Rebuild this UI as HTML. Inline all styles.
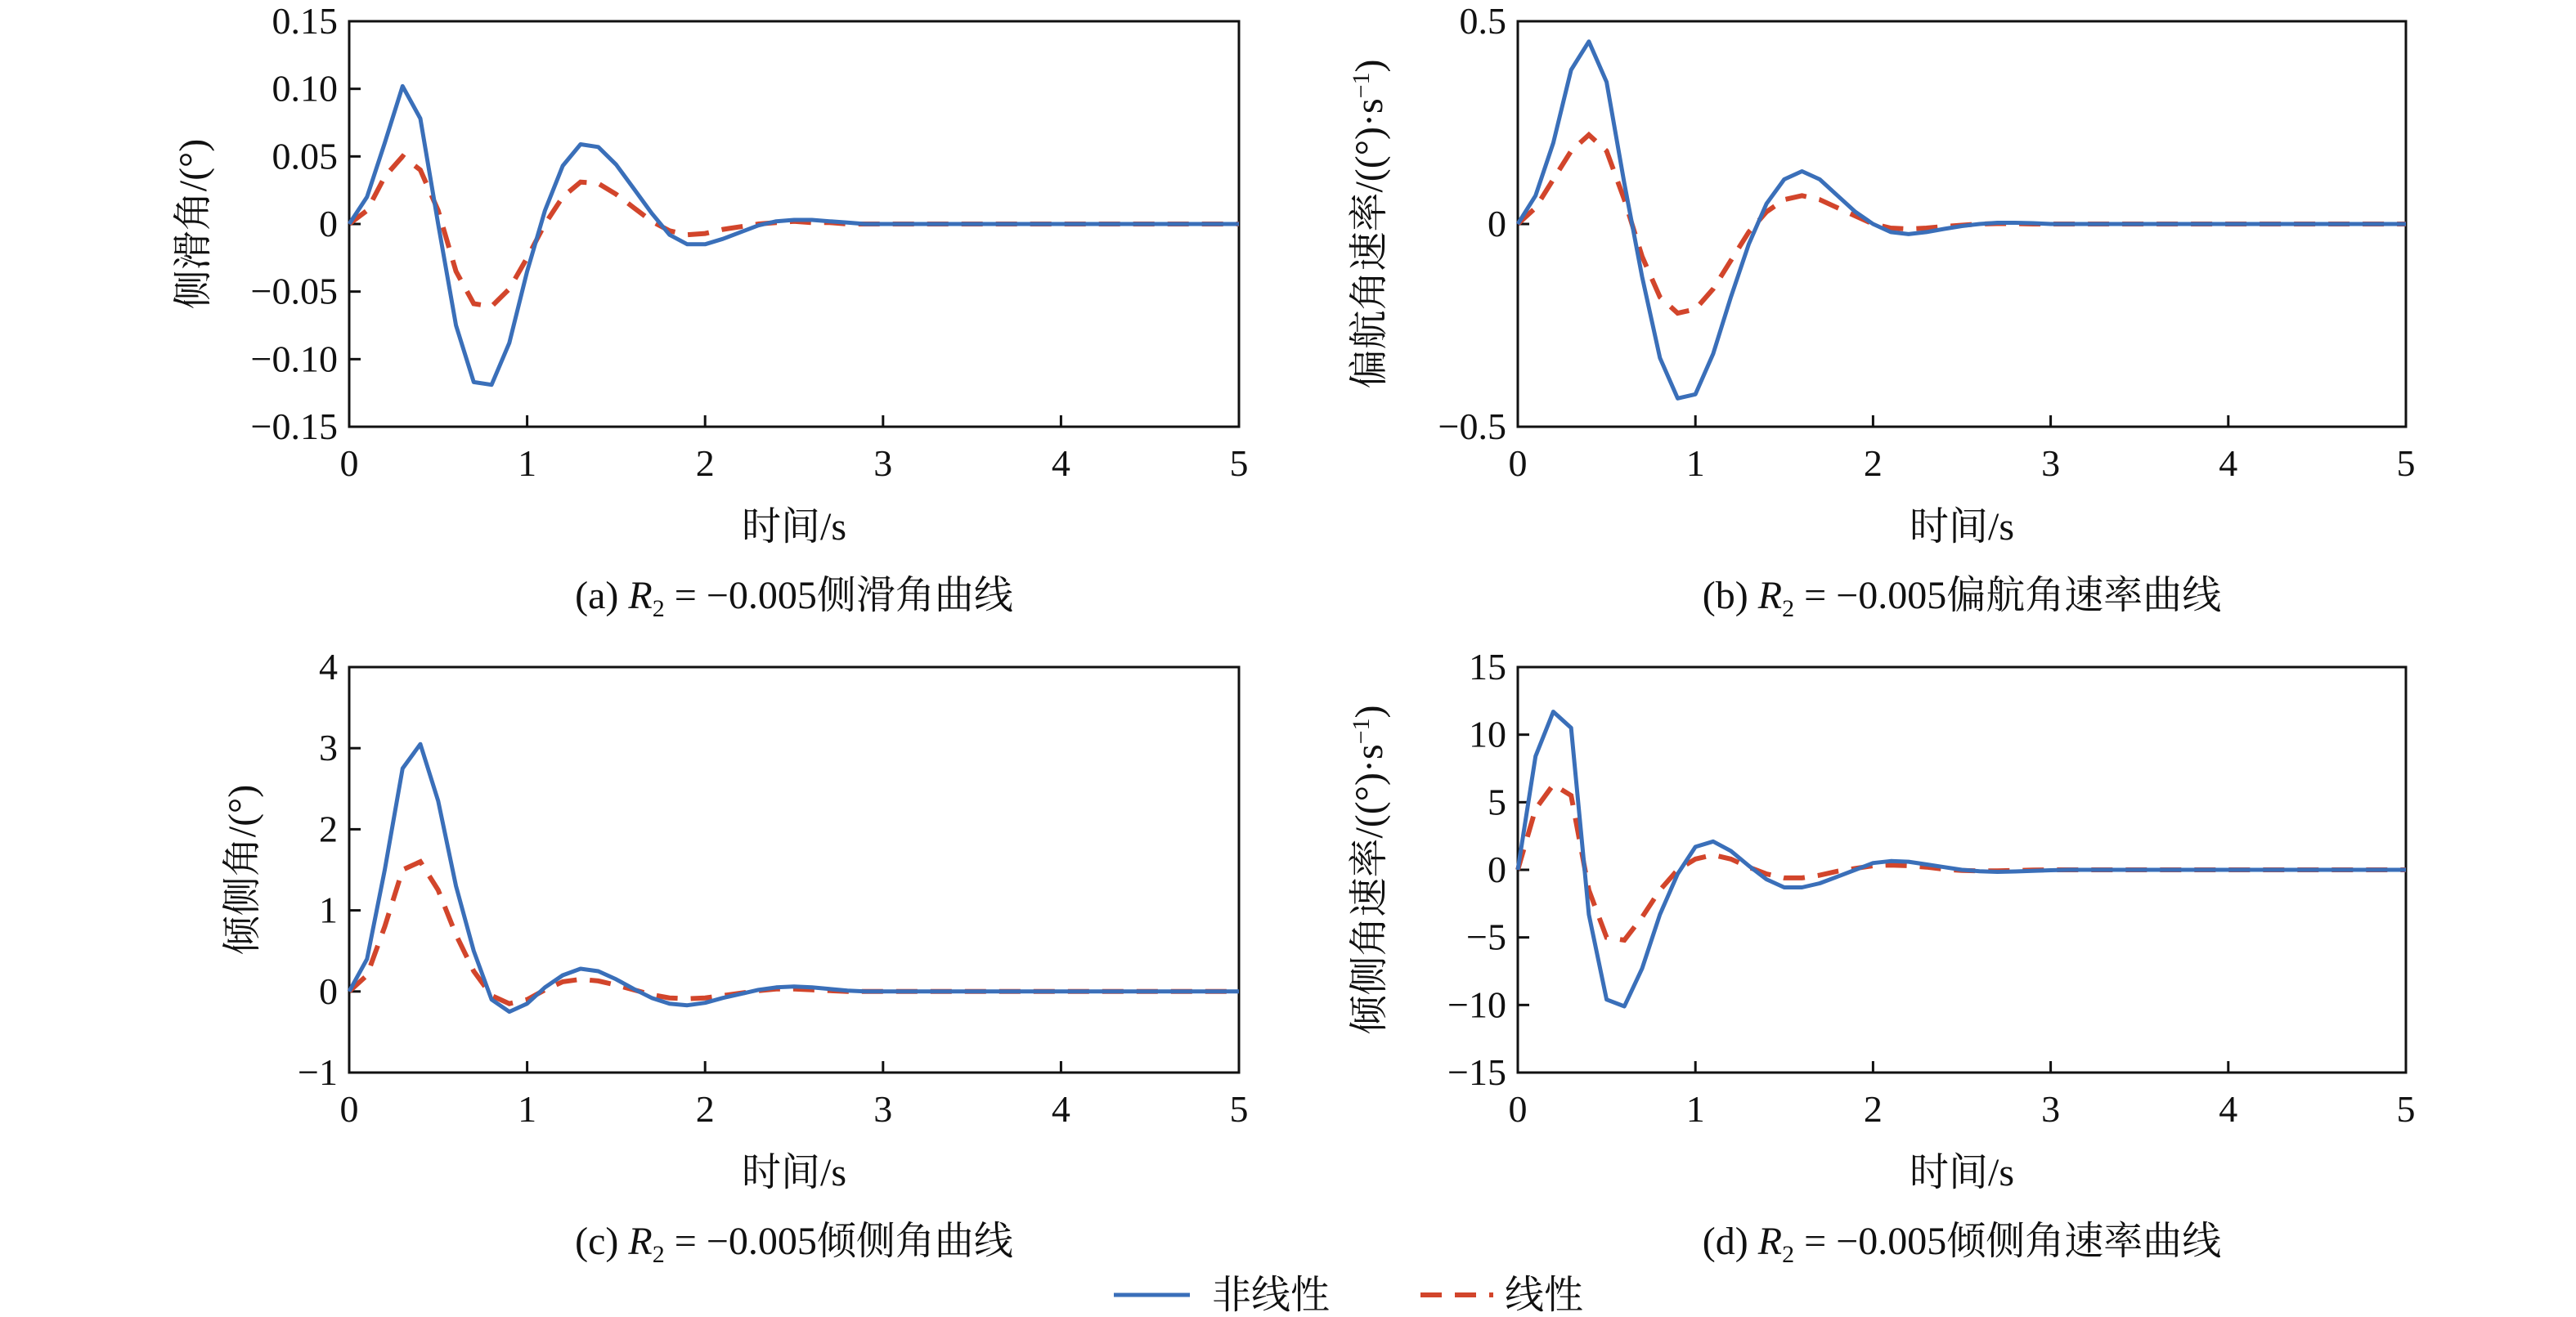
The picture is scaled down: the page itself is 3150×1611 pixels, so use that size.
<!DOCTYPE html>
<html><head><meta charset="utf-8"><style>
html,body{margin:0;padding:0;background:#fff;}
svg{display:block;font-family:"Liberation Serif","Noto Serif CJK SC",serif;}
</style></head><body>
<svg id="chart" width="3150" height="1611" viewBox="0 0 3150 1611" xmlns="http://www.w3.org/2000/svg"></svg>
<script>
const times = [];
const aNon = [0,0.02,0.06,0.102,0.078,0,-0.075,-0.117,-0.119,-0.088,-0.035,0.01,0.043,0.059,0.057,0.044,0.026,0.008,-0.008,-0.015,-0.015,-0.011,-0.006,-0.001,0.002,0.003,0.003,0.002,0.001,0,0];
const aLin = [0,0.01,0.035,0.05,0.04,0.01,-0.035,-0.059,-0.061,-0.048,-0.025,0,0.02,0.031,0.03,0.022,0.012,0.002,-0.005,-0.008,-0.007,-0.004,-0.002,0,0.001,0.002,0.001,0.001,0,0,0];
const bNon = [0,0.07,0.2,0.38,0.45,0.35,0.1,-0.13,-0.33,-0.43,-0.42,-0.32,-0.18,-0.05,0.05,0.11,0.13,0.11,0.07,0.03,0,-0.02,-0.025,-0.02,-0.012,-0.005,0,0.003,0.003,0.002,0];
const bLin = [0,0.04,0.11,0.18,0.22,0.18,0.06,-0.08,-0.18,-0.22,-0.21,-0.16,-0.09,-0.02,0.03,0.06,0.07,0.06,0.04,0.02,0,-0.01,-0.012,-0.01,-0.006,-0.003,0,0.001,0.001,0,0];
const cNon = [0,0.4,1.5,2.75,3.05,2.35,1.3,0.5,-0.1,-0.25,-0.15,0.05,0.2,0.28,0.25,0.15,0.03,-0.08,-0.15,-0.17,-0.14,-0.08,-0.03,0.02,0.05,0.06,0.05,0.03,0.01,0,0];
const cLin = [0,0.2,0.8,1.5,1.6,1.25,0.7,0.25,-0.05,-0.15,-0.1,0.02,0.12,0.15,0.13,0.08,0.02,-0.04,-0.08,-0.09,-0.08,-0.05,-0.02,0.01,0.03,0.03,0.02,0.01,0,0,0];
const dNon = [0,8.4,11.7,10.5,-3.3,-9.6,-10.1,-7.3,-3.3,-0.3,1.7,2.1,1.4,0.3,-0.7,-1.3,-1.3,-1.0,-0.5,0,0.5,0.65,0.6,0.4,0.2,0,-0.1,-0.15,-0.12,-0.08,-0.03];
const dLin = [0,4.5,6.3,5.5,-1.5,-5,-5.2,-3.5,-1.5,0,0.8,1.1,0.8,0.2,-0.3,-0.6,-0.6,-0.4,-0.1,0.1,0.3,0.35,0.3,0.2,0.05,-0.05,-0.08,-0.07,-0.05,-0.02,0];
const xTicks = [0,1,2,3,4,5];
const aTicks = [-0.15,-0.10,-0.05,0,0.05,0.10,0.15];
const aTickLabels = ["\u22120.15","\u22120.10","\u22120.05","0","0.05","0.10","0.15"];
const bTicks = [-0.5,0,0.5];
const bTickLabels = ["\u22120.5","0","0.5"];
const cTicks = [-1,0,1,2,3,4];
const cTickLabels = ["\u22121","0","1","2","3","4"];
const dTicks = [-15,-10,-5,0,5,10,15];
const dTickLabels = ["\u221215","\u221210","\u22125","0","5","10","15"];
for(let i=0;i<=50;i++) times.push(i*0.1);
function full(arr){const r=arr.slice();while(r.length<times.length)r.push(0);return r;}

const svg=document.getElementById('chart');
const NS='http://www.w3.org/2000/svg';
function el(tag,attrs,parent){const e=document.createElementNS(NS,tag);for(const k in attrs)e.setAttribute(k,attrs[k]);(parent||svg).appendChild(e);return e;}

function panel(id,x0,x1,y0,y1,ymin,ymax,ticks,labels,non,lin,ylabel,caption){
  const g=el('g',{});
  
  
  const sx=v=>x0+(v-0)/5*(x1-x0);
  const sy=v=>y1-(v-ymin)/(ymax-ymin)*(y1-y0);
  const frame=el('rect',{x:x0,y:y0,width:x1-x0,height:y1-y0,fill:'none',stroke:'#111','stroke-width':3},g);
  
  
  xTicks.forEach(t=>{
    const l=el('line',{x1:sx(t),x2:sx(t),y1:y1,y2:y1-14,stroke:'#111','stroke-width':3},g);
    
    
    const tx=el('text',{x:sx(t),y:y1+60,'font-size':46,'text-anchor':'middle',fill:'#111'},g);
    tx.textContent=String(t);
    
    
  });
  ticks.forEach((t,i)=>{
    const l=el('line',{x1:x0,x2:x0+14,y1:sy(t),y2:sy(t),stroke:'#111','stroke-width':3},g);
    
    
    const tx=el('text',{x:x0-14,y:sy(t)+15,'font-size':46,'text-anchor':'end',fill:'#111'},g);
    tx.textContent=labels[i];
    
    
  });
  const n=full(non), li=full(lin);
  const pts=a=>a.map((v,i)=>sx(times[i]).toFixed(1)+','+sy(v).toFixed(1)).join(' ');
  const pl=el('polyline',{points:pts(li),fill:'none',stroke:'#d2452b','stroke-width':6,'stroke-dasharray':'26 16'},g);
  
  
  const pn=el('polyline',{points:pts(n),fill:'none',stroke:'#3a6fb9','stroke-width':5,'stroke-linejoin':'round'},g);
  
  
  const xt=el('text',{x:(x0+x1)/2,y:y1+138,'font-size':48,'text-anchor':'middle',fill:'#111'},g);
  xt.textContent='时间/s';
  
  
  const yx=ylabel.x, yy=(y0+y1)/2;
  const yt=el('text',{x:yx,y:yy,'font-size':48,'text-anchor':'middle',fill:'#111',transform:`rotate(-90 ${yx} ${yy})`},g);
  yt.innerHTML=ylabel.html;
  
  
  const cp=el('text',{x:(x0+x1)/2,y:y1+222,'font-size':48,'text-anchor':'middle',fill:'#111'},g);
  cp.innerHTML=caption;
  
  
}
const sup='<tspan dy="-16" font-size="30">\u22121</tspan><tspan dy="16">)</tspan>';
const R2='<tspan font-style="italic">R</tspan><tspan dy="10" font-size="30">2</tspan><tspan dy="-10"> = \u22120.005</tspan>';
panel('a',427,1515,26,522,-0.15,0.15,aTicks,aTickLabels,aNon,aLin,{x:252,html:'侧滑角/(°)'},'(a) '+R2+'侧滑角曲线');
panel('b',1856,2942,26,522,-0.5,0.5,bTicks,bTickLabels,bNon,bLin,{x:1690,html:'偏航角速率/((°)·s'+sup},'(b) '+R2+'偏航角速率曲线');
panel('c',427,1515,816,1312,-1,4,cTicks,cTickLabels,cNon,cLin,{x:312,html:'倾侧角/(°)'},'(c) '+R2+'倾侧角曲线');
panel('d',1856,2942,816,1312,-15,15,dTicks,dTickLabels,dNon,dLin,{x:1690,html:'倾侧角速率/((°)·s'+sup},'(d) '+R2+'倾侧角速率曲线');

const lg=el('g',{});


const l1=el('line',{x1:1362,x2:1455,y1:1584,y2:1584,stroke:'#3a6fb9','stroke-width':5},lg);


const t1=el('text',{x:1482,y:1600,'font-size':48,fill:'#111'},lg);
t1.textContent='非线性';


const l2=el('line',{x1:1737,x2:1826,y1:1584,y2:1584,stroke:'#d2452b','stroke-width':6,'stroke-dasharray':'26 16'},lg);


const t2=el('text',{x:1840,y:1600,'font-size':48,fill:'#111'},lg);
t2.textContent='线性';


</script>
</body></html>
